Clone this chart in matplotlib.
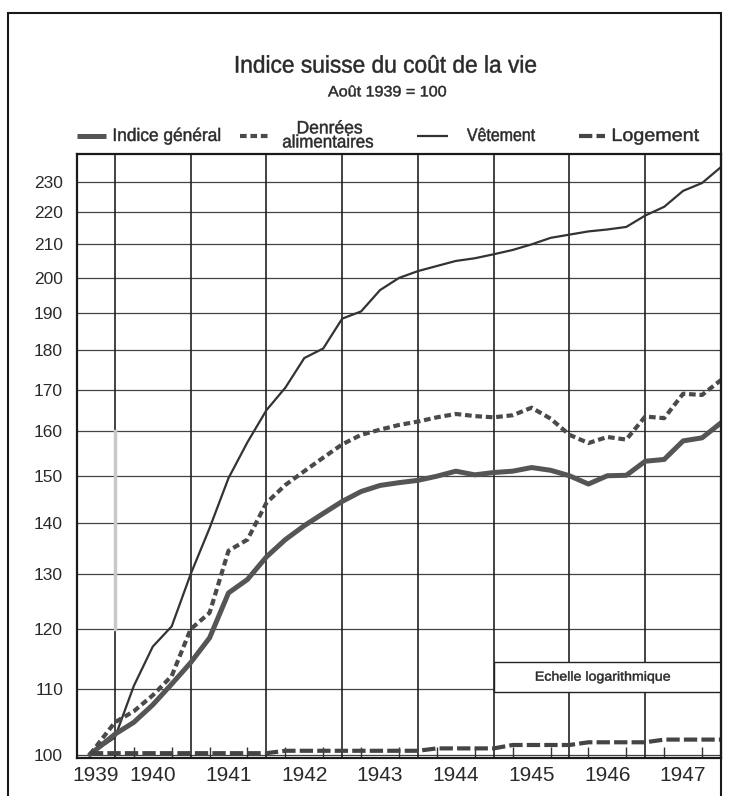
import matplotlib
matplotlib.use("Agg")
import matplotlib.pyplot as plt
from matplotlib.lines import Line2D
from matplotlib.patches import Rectangle, PathPatch
from matplotlib.textpath import TextPath
from matplotlib.font_manager import FontProperties
from matplotlib.transforms import Affine2D
from matplotlib.ticker import FixedLocator, NullLocator, NullFormatter

# dates as decimal years (Aug 1939, then end of each quarter)
dates = [1939.67, 1940.00, 1940.25, 1940.50, 1940.75, 1941.00, 1941.25, 1941.50,
         1941.75, 1942.00, 1942.25, 1942.50, 1942.75, 1943.00, 1943.25, 1943.50,
         1943.75, 1944.00, 1944.25, 1944.50, 1944.75, 1945.00, 1945.25, 1945.50,
         1945.75, 1946.00, 1946.25, 1946.50, 1946.75, 1947.00, 1947.25, 1947.50,
         1947.75, 1948.00]

indice_general = [100.0, 103.0, 104.8, 107.5, 110.8, 114.3, 118.5, 126.5,
                  129.0, 133.3, 136.7, 139.5, 142.0, 144.5, 146.6, 147.9,
                  148.5, 149.0, 149.9, 151.0, 150.2, 150.7, 151.0, 151.8,
                  151.2, 150.0, 148.2, 150.0, 150.1, 153.2, 153.6, 157.8,
                  158.5, 162.0]

denrees = [100.0, 104.8, 106.5, 109.0, 112.1, 120.0, 122.9, 134.5,
           136.7, 144.2, 148.0, 151.0, 154.0, 157.0, 159.2, 160.4,
           161.5, 162.3, 163.3, 164.1, 163.6, 163.3, 163.8, 165.6,
           163.0, 159.2, 157.3, 158.7, 158.1, 163.5, 163.1, 169.0,
           168.7, 172.4]

vetement = [100.0, 102.5, 110.5, 117.0, 120.5, 130.0, 139.0, 149.5,
            157.5, 165.0, 170.5, 178.0, 180.5, 188.5, 190.5, 196.5,
            200.0, 202.0, 203.5, 205.0, 205.8, 207.0, 208.3, 210.0,
            212.0, 213.0, 214.0, 214.6, 215.4, 219.0, 221.8, 227.0,
            229.6, 235.0]

logement = [100.2, 100.2, 100.2, 100.2, 100.2, 100.2, 100.2, 100.2,
            100.2, 100.2, 100.55, 100.55, 100.55, 100.55, 100.55, 100.55,
            100.55, 100.55, 100.9, 100.9, 100.9, 100.9, 101.4, 101.4,
            101.4, 101.4, 101.8, 101.8, 101.8, 101.8, 102.2, 102.2,
            102.2, 102.2]

y_ticks = [100, 110, 120, 130, 140, 150, 160, 170, 180, 190, 200, 210, 220, 230]
years = [1939, 1940, 1941, 1942, 1943, 1944, 1945, 1946, 1947]
year_label_pos = [1939.75, 1940.5, 1941.5, 1942.5, 1943.5, 1944.5, 1945.5, 1946.5, 1947.5]

W, H = 732, 796
ink = '#2a2a2a'
plt.rcParams['font.family'] = ['Liberation Sans', 'DejaVu Sans']
cond_font = FontProperties(family='Liberation Sans')

fig = plt.figure(figsize=(W / 100, H / 100), dpi=100)
ax = fig.add_axes([77 / W, 1 - 758 / H, (721 - 77) / W, (758 - 154) / H])
ax.set_yscale('log')
ax.set_xlim(1939.5, 1948.0)
ax.set_ylim(99.5, 239.5)


def cond_text(s, xc, yc, em, width):
    # condensed lettering: text outline squeezed to the wanted pixel width
    tp = TextPath((0, 0), s, size=em, prop=cond_font)
    ext = tp.get_extents()
    sx = width / ext.width
    tx = xc - (ext.x0 + ext.width / 2) * sx
    ty = (H - yc) - em * 0.716 / 2
    tr = Affine2D().scale(sx, 1.0).translate(tx, ty)
    fig.add_artist(PathPatch(tp, transform=tr, facecolor=ink, edgecolor=ink,
                             lw=0.35, zorder=6))


# grid
for v in y_ticks:
    ax.axhline(v, color='#444444', lw=0.9, zorder=1)
for yr in years[1:]:
    ax.axvline(yr, color='#222222', lw=1.2, zorder=1)
# faint scan mark
ax.plot([1940.0, 1940.0], [120, 160], color='#c8c8c8', lw=2.5, zorder=1)

# series
ax.plot(dates, vetement, color='#333333', lw=1.6, zorder=3)
ax.plot(dates, indice_general, color='#555555', lw=3.6, zorder=3,
        solid_capstyle='round', solid_joinstyle='round')
ax.plot(dates, denrees, color='#4a4a4a', lw=3.0, zorder=3, dashes=(1.6, 0.9))
ax.plot(dates, logement, color='#444444', lw=3.0, zorder=3, dashes=(3.2, 1.0))

# axes styling
for s in ax.spines.values():
    s.set_linewidth(1.6)
    s.set_color('#1a1a1a')
ax.set_yticks(y_ticks)
ax.set_yticklabels([str(v) for v in y_ticks])
ax.yaxis.set_minor_locator(NullLocator())
ax.yaxis.set_minor_formatter(NullFormatter())
ax.tick_params(axis='y', length=0, pad=10, labelsize=12.5, labelcolor=ink)

ax.xaxis.set_major_locator(FixedLocator(year_label_pos))
ax.set_xticklabels([str(y) for y in years])
quarters = [1939.75] + [y + q for y in years[1:] for q in (0.25, 0.5, 0.75)]
ax.xaxis.set_minor_locator(FixedLocator(quarters))
ax.tick_params(axis='x', which='major', length=0, pad=6, labelsize=15, labelcolor=ink)
ax.tick_params(axis='x', which='minor', direction='in', length=8, width=1.0, color='#333333')

# "Echelle logarithmique" box
ax.add_patch(Rectangle((0.647, 0.109), 0.353, 0.05, transform=ax.transAxes,
                       facecolor='white', edgecolor='#222222', lw=1.0, zorder=4))
cond_text('Echelle logarithmique', 603, 676, 13, 134)

# outer frame
fig.add_artist(Rectangle((8 / W, -0.02), (721 - 8) / W, 1 - 13 / H + 0.02,
                         transform=fig.transFigure, fill=False, lw=1.5,
                         edgecolor='#1a1a1a'))

# titles
cond_text('Indice suisse du coût de la vie', 386, 64, 24, 300)
cond_text('Août 1939 = 100', 387, 91, 15, 118)

# legend
ly = 1 - 136 / H


def legend_line(x0, x1, y, **kw):
    fig.add_artist(Line2D([x0 / W, x1 / W], [y, y], transform=fig.transFigure,
                          solid_capstyle='butt', dash_capstyle='butt', **kw))


legend_line(77, 106, ly, color='#555555', lw=3.6)
cond_text('Indice général', 167, 134.5, 18, 106)
legend_line(240, 268, ly, color='#4a4a4a', lw=3.0, dashes=(1.6, 0.9))
cond_text('Denrées', 330, 127, 18, 64)
cond_text('alimentaires', 328, 141, 18, 90)
legend_line(417, 448, ly, color='#333333', lw=1.6)
cond_text('Vêtement', 501, 134.5, 18, 68)
legend_line(579, 605, ly, color='#444444', lw=3.0, dashes=(3.2, 1.0))
cond_text('Logement', 656, 134.5, 18, 86)

fig.savefig('out.png', dpi=100, facecolor='white')
